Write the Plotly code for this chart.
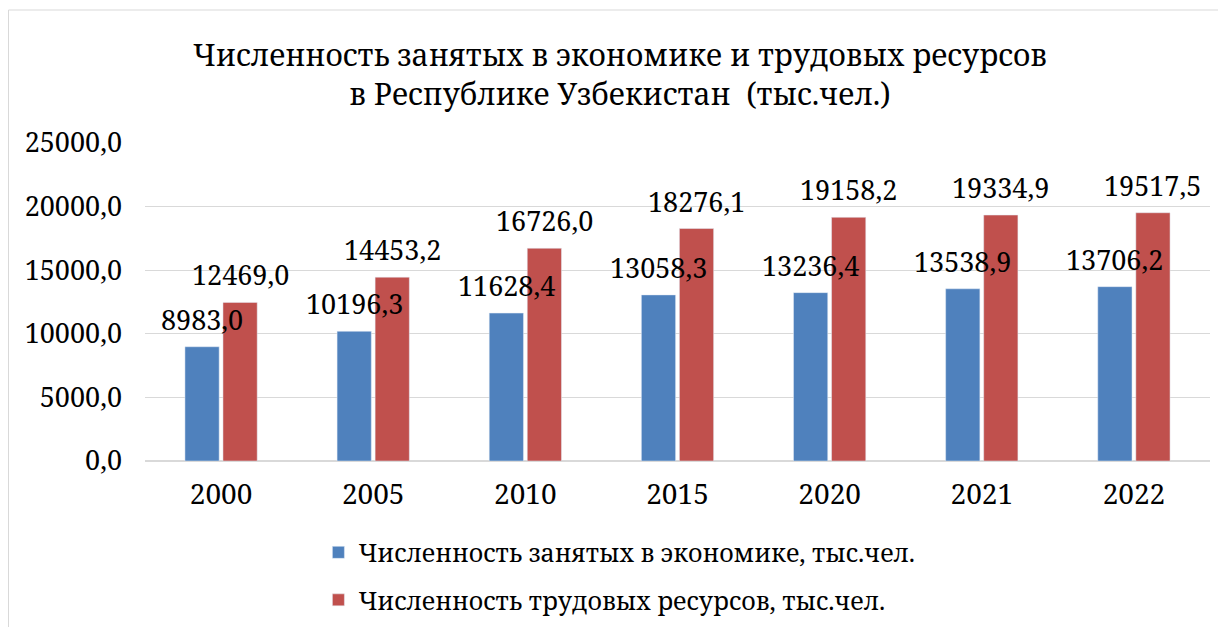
import plotly.graph_objects as go

years = ["2000", "2005", "2010", "2015", "2020", "2021", "2022"]
employed = [8983.0, 10196.3, 11628.4, 13058.3, 13236.4, 13538.9, 13706.2]
labour = [12469.0, 14453.2, 16726.0, 18276.1, 19158.2, 19334.9, 19517.5]
name_employed = "Численность занятых в экономике, тыс.чел."
name_labour = "Численность трудовых ресурсов, тыс.чел."
title_text = "Численность занятых в экономике и трудовых ресурсов<br>в Республике Узбекистан  (тыс.чел.)"
tick_vals = [0, 5000, 10000, 15000, 20000, 25000]

FONT = "Noto Serif, DejaVu Serif"
COL_A = "#4F81BD"
COL_B = "#C0504D"

W, H = 1218, 619  # page body has an 8px margin
L, T = 137, 135
PW, PH = 1065, 318


def fmt(v):
    return f"{v:.1f}".replace(".", ",")


fig = go.Figure()
fig.add_trace(go.Bar(x=years, y=employed, name=name_employed, legendgroup="a",
                     marker=dict(color=COL_A)))
fig.add_trace(go.Bar(x=years, y=labour, name=name_labour, legendgroup="b",
                     marker=dict(color=COL_B)))

annotations = []
for series, shift in ((employed, -19), (labour, 19)):
    for i, v in enumerate(series):
        annotations.append(dict(x=i, y=v, xref="x", yref="y", text=fmt(v),
                                showarrow=False, xanchor="center", yanchor="bottom",
                                xshift=shift, yshift=7,
                                font=dict(family=FONT, size=27, color="#000000")))

fig.update_layout(
    width=W, height=H,
    paper_bgcolor="white", plot_bgcolor="white",
    margin=dict(l=L, r=W - L - PW, t=T, b=H - T - PH, autoexpand=False),
    barmode="group", bargap=0.5, bargroupgap=0.1,
    separators=",.",
    font=dict(family=FONT, color="#000000"),
    title=dict(text=title_text, x=612 / W, xanchor="center", y=1 - 58 / H, yanchor="middle",
               font=dict(family=FONT, size=30, color="#000000")),
    showlegend=True,
    legend=dict(orientation="v", x=0.16 + 3 / PW, xanchor="left", y=-0.2 - 5 / PH, yanchor="top",
                font=dict(family=FONT, size=25, color="#000000"),
                tracegroupgap=12, traceorder="grouped"),
    yaxis=dict(range=[0, 25000], tickvals=tick_vals, tickformat=".1f",
               showgrid=True, gridcolor="#D9D9D9", gridwidth=1,
               zeroline=True, zerolinecolor="#D9D9D9", showline=False,
               tickfont=dict(family=FONT, size=27, color="#000000"),
               ticklabelstandoff=22, automargin=False),
    xaxis=dict(showline=False, showgrid=False, type="category",
               range=[-0.5, len(years) - 0.5],
               tickfont=dict(family=FONT, size=28, color="#000000"),
               ticklabelstandoff=14, automargin=False),
    annotations=annotations,
    shapes=[dict(type="rect", xref="paper", yref="paper",
                 x0=(0.5 - L) / PW, x1=(W + 20 - L) / PW,
                 y0=-(H + 20 - T - PH) / PH, y1=1 + (T - 2) / PH,
                 line=dict(color="#D9D9D9", width=1), layer="below")],
)

fig.write_html("out.html")
